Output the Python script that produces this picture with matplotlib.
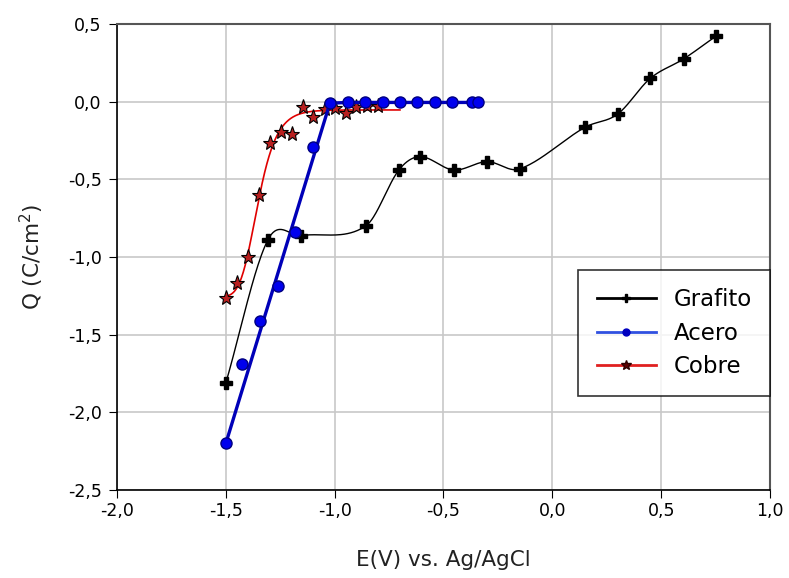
import numpy as np
import matplotlib.pyplot as plt
import matplotlib.ticker as mticker

plt.rcParams['font.family'] = ['DejaVu Sans']

# Grafito
grafito_x = [-1.50, -1.307, -1.154, -0.857, -0.705, -0.607, -0.453, -0.30, -0.15, 0.15, 0.30, 0.45, 0.603, 0.75]
grafito_y = [-1.81, -0.89, -0.862, -0.80, -0.44, -0.354, -0.44, -0.386, -0.433, -0.165, -0.08, 0.15, 0.275, 0.42]

# Acero
acero_x = [-1.50, -1.424, -1.343, -1.26, -1.18, -1.10, -1.022, -0.94, -0.86, -0.78, -0.70, -0.62, -0.54, -0.46, -0.37, -0.34]
acero_y = [-2.20, -1.69, -1.415, -1.186, -0.84, -0.29, -0.01, -0.005, -0.005, -0.005, -0.005, -0.005, -0.005, -0.005, -0.005, -0.005]

# Cobre
cobre_x = [-1.50, -1.447, -1.396, -1.347, -1.296, -1.247, -1.194, -1.147, -1.10, -1.046, -1.00, -0.95, -0.90, -0.85, -0.80]
cobre_y = [-1.265, -1.17, -0.997, -0.60, -0.267, -0.197, -0.208, -0.032, -0.10, -0.047, -0.04, -0.07, -0.036, -0.03, -0.03]


def catmull_rom(x, y, n=40):
    # cubic hermite curve with finite-difference slopes
    x = np.asarray(x, float)
    y = np.asarray(y, float)
    m = np.zeros_like(y)
    m[1:-1] = (y[2:] - y[:-2]) / (x[2:] - x[:-2])
    m[0] = (y[1] - y[0]) / (x[1] - x[0])
    m[-1] = (y[-1] - y[-2]) / (x[-1] - x[-2])
    xs, ys = [], []
    for i in range(len(x) - 1):
        h = x[i + 1] - x[i]
        t = np.linspace(0, 1, n)
        h00 = 2 * t**3 - 3 * t**2 + 1
        h10 = t**3 - 2 * t**2 + t
        h01 = -2 * t**3 + 3 * t**2
        h11 = t**3 - t**2
        xs.append(x[i] + t * h)
        ys.append(h00 * y[i] + h10 * h * m[i] + h01 * y[i + 1] + h11 * h * m[i + 1])
    return np.concatenate(xs), np.concatenate(ys)


def richards_fit(x, y, x_end):
    # least-squares sigmoid fit (grid over shape, linear in the asymptotes)
    x = np.asarray(x, float)
    y = np.asarray(y, float)
    x0 = np.linspace(-1.45, -1.25, 41)[:, None, None, None]
    w = np.linspace(0.01, 0.08, 36)[None, :, None, None]
    nu = np.geomspace(0.1, 10, 25)[None, None, :, None]
    s = (1 / (1 + np.exp(-(x - x0) / w))) ** nu
    sm = s.mean(-1, keepdims=True)
    ym = y.mean()
    b = ((s - sm) * (y - ym)).sum(-1, keepdims=True) / (((s - sm) ** 2).sum(-1, keepdims=True) + 1e-12)
    a = ym - b * sm
    err = ((a + b * s - y) ** 2).sum(-1)
    i, j, k = np.unravel_index(np.argmin(err), err.shape)
    xs = np.linspace(x[0], x_end, 400)
    ss = (1 / (1 + np.exp(-(xs - x0[i, 0, 0, 0]) / w[0, j, 0, 0]))) ** nu[0, 0, k, 0]
    return xs, a[i, j, k, 0] + b[i, j, k, 0] * ss


fig = plt.figure(figsize=(7.89, 5.78), dpi=100)
ax = fig.add_axes([0.1483, 0.1522, 0.8276, 0.8063])

gx, gy = catmull_rom(grafito_x, grafito_y)
ax.plot(gx, gy, color='black', lw=1.0, zorder=3)
ax.plot(grafito_x, grafito_y, ls='none', marker='P', ms=9, color='black', zorder=4)

# straight rise then flat
line_x = [acero_x[0]] + acero_x[6:]
line_y = [acero_y[0]] + acero_y[6:]
ax.plot(line_x, line_y, color='#0000b8', lw=2.4, zorder=5)
ax.plot(acero_x, acero_y, ls='none', marker='o', ms=8, mfc='#0000ee', mec='#000080', zorder=6)

rx, ry = richards_fit(cobre_x, cobre_y, -0.70)
ax.plot(rx, ry, color='#e00000', lw=1.2, zorder=3)
ax.plot(cobre_x, cobre_y, ls='none', marker='*', ms=11, mfc='#b82020', mec='black', mew=0.8, zorder=4)

ax.plot([], [], color='black', lw=2, marker='P', ms=6, label='Grafito')
ax.plot([], [], color='#3050e0', lw=2, marker='o', ms=5, mfc='#0000c0', mec='#0000c0', label='Acero')
ax.plot([], [], color='#e02020', lw=2, marker='*', ms=7, mfc='#600000', mec='#300000', label='Cobre')

ax.set_xlim(-2.0, 1.0)
ax.set_ylim(-2.5, 0.5)
ax.set_xticks(np.arange(-2.0, 1.01, 0.5))
ax.set_yticks(np.arange(-2.5, 0.51, 0.5))
fmt = mticker.FuncFormatter(lambda v, p: f"{v:.1f}".replace('.', ','))
ax.xaxis.set_major_formatter(fmt)
ax.yaxis.set_major_formatter(fmt)
ax.grid(True, color='#c8c8c8', lw=1.2)
ax.set_axisbelow(True)
ax.tick_params(direction='out', length=6, labelsize=12.5, top=False, right=False, colors='black')
ax.tick_params(axis='y', pad=5)
ax.tick_params(axis='x', pad=2.5)
for s in ['top', 'right']:
    ax.spines[s].set_color('#555555')
    ax.spines[s].set_linewidth(1.5)
for s in ['left', 'bottom']:
    ax.spines[s].set_color('black')
    ax.spines[s].set_linewidth(1.2)

ax.set_xlabel('E(V) vs. Ag/AgCl', fontsize=15.5, labelpad=22, color='#222222')
ax.set_ylabel('Q (C/cm$^2$)', fontsize=15.5, labelpad=16, color='#222222')

leg = ax.legend(loc='upper right', bbox_to_anchor=(1.0, 0.472), borderaxespad=0, fontsize=16.5,
                frameon=True, fancybox=False, edgecolor='black', handlelength=2.6, handletextpad=0.75,
                borderpad=0.8, labelspacing=0.45)
leg.get_frame().set_linewidth(1.2)

fig.savefig('out.png', dpi=100)
